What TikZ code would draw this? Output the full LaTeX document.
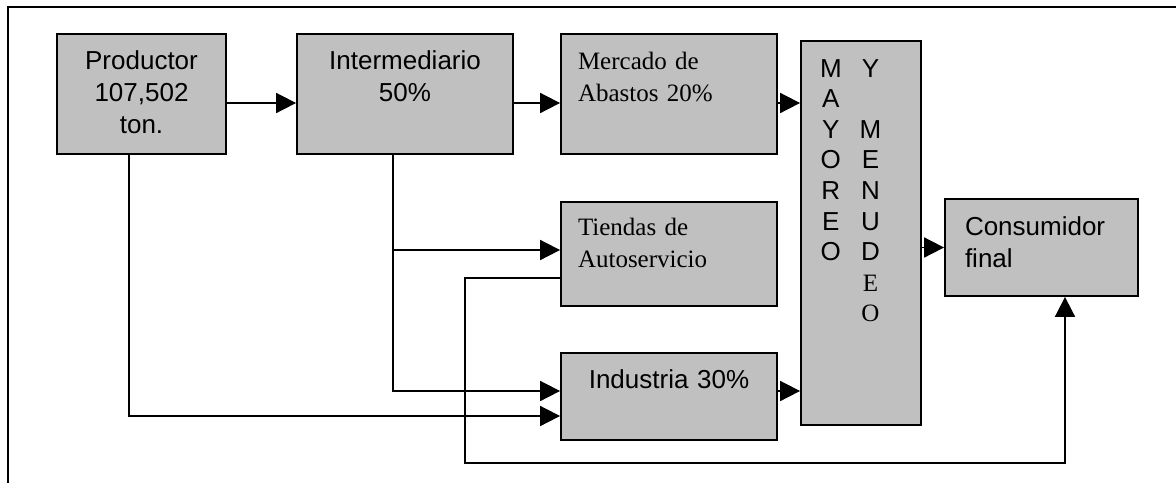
\documentclass[tikz,border=0pt]{standalone}
\usepackage{fontspec}
\setmainfont{Liberation Serif}
\setsansfont{Liberation Sans}
\usetikzlibrary{arrows.meta}

\definecolor{boxgray}{RGB}{192,192,192}
\newcommand{\arialtext}{\sffamily\fontsize{26pt}{32pt}\selectfont}
\newcommand{\timestext}{\rmfamily\fontsize{25pt}{32pt}\selectfont}
\newcommand{\mayotext}{\sffamily\fontsize{26pt}{30.6pt}\selectfont}
\newcommand{\serifletter}[1]{{\rmfamily\fontsize{25pt}{30.6pt}\selectfont #1}}

\tikzset{
  stage/.style={draw, fill=boxgray, line width=1.8pt, inner sep=0pt},
  flow/.style={line width=1.8pt, -{Triangle[length=20pt, width=20pt]}},
}

\begin{document}
\begin{tikzpicture}[x=1pt, y=-1pt]
  \useasboundingbox (0,0) rectangle (1176,483);
  \draw[line width=1.8pt] (1176,7) -- (8,7) -- (8,483);

  % top row
  \node[stage, font=\arialtext, text width=169pt, align=center, text height=35pt, text depth=85pt] (prod) at (141.5,94) {Productor\\107,502\\ton.};
  \node[stage, font=\arialtext, text width=216pt, align=center, text height=35pt, text depth=85pt] (inter) at (405,94) {Intermediario\\50\%};
  \node[stage, font=\timestext, text width=182pt, inner xsep=17pt, align=left, text height=35pt, text depth=85pt] (merc) at (669,94) {Mercado de\\Abastos 20\%};

  % middle column
  \node[stage, font=\timestext, text width=182pt, inner xsep=17pt, align=left, text height=33pt, text depth=71pt] (tiend) at (669,254) {Tiendas de\\Autoservicio};
  \node[stage, font=\arialtext, text width=216pt, align=center, text height=35pt, text depth=52pt] (ind) at (669,396.5) {Industria 30\%};

  % right side
  \node[stage, font=\mayotext, text width=82pt, inner xsep=19pt, align=left, text height=36pt, text depth=348pt] (mayo) at (861,233) {%
    \begin{tabular}[t]{@{}c@{\hspace{18pt}}c@{}}
      M & Y\\ A & \\ Y & M\\ O & E\\ R & N\\ E & U\\ O & D\\ & \serifletter{E}\\ & \serifletter{O}
    \end{tabular}};
  \node[stage, font=\arialtext, text width=153pt, inner xsep=20pt, align=left, text height=36pt, text depth=61pt] (cons) at (1041.5,247.5) {Consumidor\\final};

  \coordinate (split) at ([xshift=-12pt]inter.south);
  \coordinate (loop) at (465,463);

  \draw[flow] ([yshift=-9pt]prod.east) -- ([yshift=-9pt]inter.west);
  \draw[flow] ([yshift=-9pt]inter.east) -- ([yshift=-9pt]merc.west);
  \draw[flow] ([yshift=-9pt]merc.east) -- ([yshift=-9pt]merc.east -| mayo.west);
  \draw[flow] (split) |- ([yshift=5.5pt]ind.west);
  \draw[flow] ([yshift=4pt]tiend.west -| split) -- ([yshift=4pt]tiend.west);
  \draw[flow] ([xshift=-12.5pt]prod.south) |- ([yshift=-19.5pt]ind.west);
  \draw[flow] ([yshift=-24pt]tiend.west) -| (loop) -| ([xshift=23.5pt]cons.south);
  \draw[flow] ([yshift=5.5pt]ind.east) -- ([yshift=5.5pt]ind.east -| mayo.west);
  \draw[flow] (cons.west -| mayo.east) -- (cons.west);
\end{tikzpicture}
\end{document}
